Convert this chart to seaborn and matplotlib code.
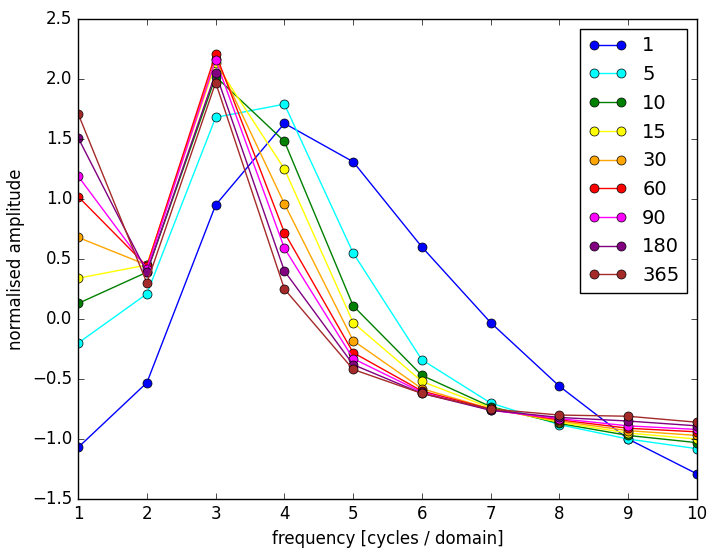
import numpy as np
import pandas as pd
import seaborn as sns
import matplotlib
matplotlib.use("Agg")
import matplotlib.pyplot as plt

freq = np.arange(1, 11)
labels = ["1", "5", "10", "15", "30", "60", "90", "180", "365"]
colors = ["blue", "cyan", "green", "yellow", "orange", "red", "magenta", "purple", "brown"]
s1 = [-1.07, -0.53, 0.95, 1.63, 1.31, 0.60, -0.03, -0.56, -1.00, -1.29]
s5 = [-0.20, 0.21, 1.68, 1.79, 0.55, -0.34, -0.70, -0.88, -1.00, -1.08]
s10 = [0.13, 0.39, 2.02, 1.48, 0.11, -0.47, -0.73, -0.87, -0.97, -1.03]
s15 = [0.34, 0.45, 2.13, 1.25, -0.03, -0.52, -0.74, -0.86, -0.95, -1.00]
s30 = [0.68, 0.45, 2.17, 0.96, -0.18, -0.58, -0.75, -0.85, -0.93, -0.97]
s60 = [1.02, 0.44, 2.21, 0.72, -0.28, -0.60, -0.75, -0.84, -0.91, -0.94]
s90 = [1.19, 0.42, 2.16, 0.59, -0.33, -0.61, -0.76, -0.83, -0.89, -0.92]
s180 = [1.51, 0.39, 2.05, 0.40, -0.38, -0.62, -0.76, -0.82, -0.85, -0.89]
s365 = [1.71, 0.30, 1.97, 0.25, -0.42, -0.62, -0.75, -0.80, -0.81, -0.86]
series = [s1, s5, s10, s15, s30, s60, s90, s180, s365]

df = pd.concat(
    [pd.DataFrame({"freq": freq, "amp": v, "window": lab}) for lab, v in zip(labels, series)]
)

plt.style.use("classic")
fig, ax = plt.subplots(figsize=(7.17, 5.57), dpi=100)
fig.patch.set_facecolor("white")
sns.lineplot(
    data=df, x="freq", y="amp", hue="window", palette=colors, hue_order=labels,
    marker="o", markersize=6.5, markeredgecolor="black", markeredgewidth=0.5,
    linewidth=1, ax=ax,
)
ax.set_xlim(1, 10)
ax.set_ylim(-1.5, 2.5)
ax.set_xlabel("frequency [cycles / domain]")
ax.set_ylabel("normalised amplitude")
ax.legend(loc="upper right", numpoints=2, fontsize=14, title=None)
fig.subplots_adjust(left=0.109, right=0.972, top=0.966, bottom=0.104)
plt.savefig("out.png")
